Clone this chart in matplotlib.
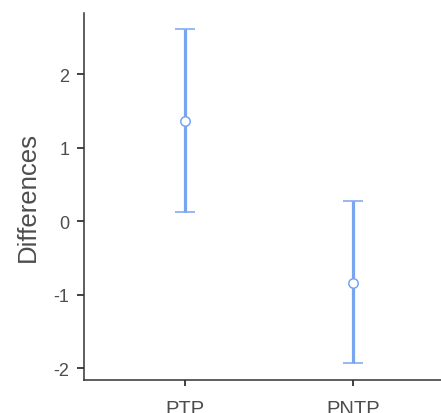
import matplotlib
matplotlib.use("Agg")
import matplotlib.pyplot as plt

groups = ["PTP", "PNTP"]
means = [1.36, -0.84]
lower = [0.12, -1.93]
upper = [2.61, 0.27]

BLUE = "#77A5EE"
AXC = "#333333"
TXT = "#4D4D4D"

plt.rcParams["font.family"] = ["Liberation Sans", "DejaVu Sans"]
plt.rcParams["axes.unicode_minus"] = False

fig = plt.figure(figsize=(4.41, 4.14), dpi=100)
ax = fig.add_axes([0.1905, 0.0797, 0.8095, 0.8865])

xs = list(range(1, len(groups) + 1))
err = [[m - lo for m, lo in zip(means, lower)], [up - m for m, up in zip(means, upper)]]
ax.errorbar(xs, means, yerr=err, fmt="o", color=BLUE, ecolor=BLUE, elinewidth=2.3,
            capsize=7, capthick=2.3, markersize=6.8, markerfacecolor="white",
            markeredgecolor=BLUE, markeredgewidth=1.1, zorder=3)

ax.set_xlim(0.40, 2.52)
ax.set_ylim(-2.16, 2.83)
ax.set_xticks(xs)
ax.set_xticklabels(groups)
ax.set_yticks([-2, -1, 0, 1, 2])
ax.set_ylabel("Differences", fontsize=18.5, color=TXT, labelpad=10)

for s in ["top", "right"]:
    ax.spines[s].set_visible(False)
for s in ["left", "bottom"]:
    ax.spines[s].set_color(AXC)
    ax.spines[s].set_linewidth(1.1)
ax.tick_params(axis="y", colors=AXC, labelcolor=TXT, labelsize=13,
               length=5, width=1.3, pad=5.5)
ax.tick_params(axis="x", colors=AXC, labelcolor=TXT, labelsize=14.5,
               length=4, width=1.3, pad=9.5)

fig.savefig("out.png", dpi=100)
